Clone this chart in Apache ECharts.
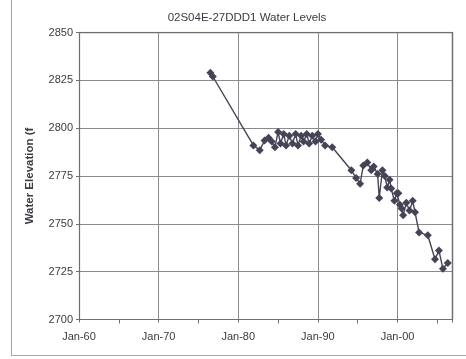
<!DOCTYPE html>
<html>
<head>
<meta charset="utf-8">
<script src="https://cdn.jsdelivr.net/npm/echarts@6/dist/echarts.min.js"></script>
<style>
  html, body { margin: 0; padding: 0; background: #fff; }
  #frame { position: absolute; left: 11px; top: -2px; width: 460px; height: 358px; border: 1px solid #a8a8a8; box-sizing: border-box; }
  #chart { position: absolute; left: 0; top: 0; width: 466px; height: 359px; }
</style>
</head>
<body>
<div id="frame"></div>
<div id="chart"></div>
<script>
// Well 02S04E-27DDD1: measurement dates (decimal years) and water elevations (ft)
const years = [
  1976.5, 1976.8, 1981.9, 1982.7, 1983.3, 1983.8, 1984.2, 1984.6, 1985.0, 1985.3,
  1985.7, 1986.0, 1986.4, 1986.8, 1987.2, 1987.5, 1987.9, 1988.2, 1988.6, 1988.9,
  1989.3, 1989.7, 1990.0, 1990.4, 1990.9, 1991.8, 1994.2, 1994.8, 1995.3, 1995.7,
  1996.2, 1996.7, 1997.0, 1997.5, 1997.7, 1998.1, 1998.4, 1998.7, 1999.0, 1999.2,
  1999.6, 1999.9, 2000.1, 2000.3, 2000.5, 2000.7, 2001.1, 2001.5, 2001.9, 2002.2,
  2002.7, 2003.8, 2004.7, 2005.2, 2005.7, 2006.3
];
const levels = [
  2829, 2827, 2791, 2788.5, 2793.5, 2795, 2793, 2790, 2798, 2792,
  2797, 2791, 2796, 2792, 2797, 2791, 2796, 2793, 2797, 2792,
  2796, 2793, 2797, 2794, 2791, 2790, 2778, 2774, 2771, 2780.5,
  2782, 2778, 2780, 2776, 2763.5, 2778, 2775, 2769, 2773, 2768.5,
  2762, 2766, 2766, 2760, 2758, 2754.5, 2761, 2757, 2762, 2756,
  2745.5, 2744, 2731.5, 2736, 2726.5, 2729.5
];
const xTickYears = [1960, 1970, 1980, 1990, 2000];
const yTicks = [2700, 2725, 2750, 2775, 2800, 2825, 2850];

const chart = echarts.init(document.getElementById('chart'), null, { renderer: 'canvas' });
const font = 'Liberation Sans, Arial, sans-serif';
const ink = '#3a3a42';

chart.setOption({
  animation: false,
  backgroundColor: 'transparent',
  title: {
    text: '02S04E-27DDD1 Water Levels',
    left: 242, top: 7, textAlign: 'center',
    textStyle: { fontFamily: font, fontSize: 11.5, fontWeight: 'normal', color: ink }
  },
  grid: { left: 79, right: 13.5, top: 32.5, bottom: 39.5 },
  xAxis: {
    type: 'value',
    min: 1960, max: 2006.9, interval: 10,
    axisLine: { show: true, lineStyle: { color: '#6e6e74', width: 1.2 } },
    axisTick: { show: true, inside: false, length: 3, lineStyle: { color: '#6e6e74' } },
    minorTick: { show: true, splitNumber: 2, length: 4, lineStyle: { color: '#6e6e74' } },
    splitLine: { show: true, lineStyle: { color: '#8a8a8e', width: 1 } },
    axisLabel: {
      fontFamily: font, fontSize: 11, color: ink, margin: 12,
      formatter: v => xTickYears.includes(v) ? 'Jan-' + String(v % 100).padStart(2, '0') : ''
    }
  },
  yAxis: {
    type: 'value',
    min: yTicks[0], max: yTicks[yTicks.length - 1], interval: 25,
    name: 'Water Elevation (f',
    nameLocation: 'middle', nameGap: 43, nameRotate: 90,
    nameTextStyle: { fontFamily: font, fontSize: 11.5, fontWeight: 'bold', color: ink },
    axisLine: { show: true, lineStyle: { color: '#6e6e74', width: 1.2 } },
    axisTick: { show: true, length: 3, lineStyle: { color: '#6e6e74' } },
    splitLine: { show: true, lineStyle: { color: '#8a8a8e', width: 1 } },
    axisLabel: { fontFamily: font, fontSize: 11, color: ink, margin: 6, formatter: v => String(v) }
  },
  series: [
    {
      type: 'line',
      data: years.map((y, i) => [y, levels[i]]),
      symbol: 'diamond', symbolSize: 8,
      itemStyle: { color: '#444456' },
      lineStyle: { color: '#444456', width: 1.4 },
      z: 5
    },
    {
      // plot area outline on top and right
      type: 'line', data: [[1960, 2850], [2006.9, 2850], [2006.9, 2700]],
      symbol: 'none', silent: true,
      lineStyle: { color: '#6e6e74', width: 1.5 }, z: 3
    }
  ]
});
</script>
</body>
</html>
